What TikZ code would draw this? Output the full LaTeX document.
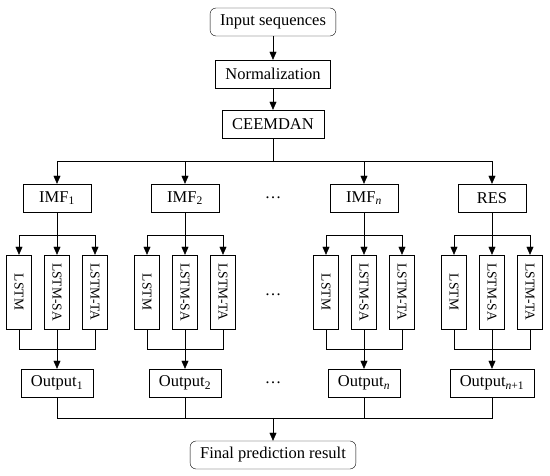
\documentclass[tikz,border=0pt]{standalone}
\usepackage{fontspec}
\setmainfont{Liberation Serif}
\usepackage{graphicx}
\usepackage{tikz}
\usetikzlibrary{arrows.meta,positioning,calc}

\begin{document}
\begin{tikzpicture}[
  x=1pt,y=-1pt,
  every node/.style={font=\fontsize{16.5}{19}\selectfont},
  box/.style={draw,thin,minimum width=68pt,minimum height=28pt,inner xsep=10pt,inner ysep=0pt},
  rbox/.style={box,rounded corners=6pt},
  lstm/.style={draw,thin,minimum width=25pt,minimum height=74pt,inner sep=0pt,
    font=\fontsize{13.5}{15}\selectfont},
  arr/.style={-{Triangle[length=8pt,width=7pt]},thin},
  ln/.style={thin},
]
\useasboundingbox (0,0) rectangle (550,476);

%% ── Top chain ────────────────────────────────────────────────────────────
\node[rbox,minimum width=117pt] (inp)  at (273,22)  {Input sequences};
\node[box,minimum width=114pt]  (norm) at (273,74)  {Normalization};
\node[box,minimum width=95pt]   (ceem) at (273,124) {CEEMDAN};
\draw[arr] (inp) -- (norm);
\draw[arr] (norm) -- (ceem);
\coordinate (split) at (273,161);
\draw[ln] (ceem) -- (split);

%% Final result
\node[rbox,minimum width=161pt] (final) at (273,455) {Final prediction result};
\coordinate (merge) at (273,418);
\draw[arr] (merge) -- (final);

%% ── Branches: IMF -> LSTM models -> output ───────────────────────────────
\foreach \g/\x/\imf/\out in {
    1/57/IMF\textsubscript{1}/Output\textsubscript{1},
    2/185/IMF\textsubscript{2}/Output\textsubscript{2},
    n/364/IMF\textsubscript{\textit{n}}/Output\textsubscript{\textit{n}},
    r/492/RES/Output\textsubscript{\textit{n}+1}} {
  \node[box] (imf\g) at (\x,198) {\imf};
  \draw[arr] (split) -| (imf\g);
  \coordinate (up\g) at (\x,235);
  \draw[ln] (imf\g) -- (up\g);
  \foreach \k/\dx/\lbl in {a/-38/LSTM, b/0/LSTM-SA, c/38/LSTM-TA} {
    \node[lstm] (m\g\k) at ({\x+(\dx)},292) {\rotatebox{-90}{\lbl}};
    \draw[arr] (up\g) -| (m\g\k);
  }
  \coordinate (lo\g) at (\x,349);
  \foreach \k in {a,b,c}
    \draw[ln] (m\g\k.south) |- (lo\g);
  \node[box] (out\g) at (\x,383) {\out};
  \draw[arr] (lo\g) -- (out\g);
  \draw[ln] (out\g) |- (merge);
}

%% Ellipses between branches
\node (dimf) at (273,198) {\ldots};
\node (dmod) at (273,295) {\ldots};
\node (dout) at (273,383) {\ldots};

\end{tikzpicture}
\end{document}
